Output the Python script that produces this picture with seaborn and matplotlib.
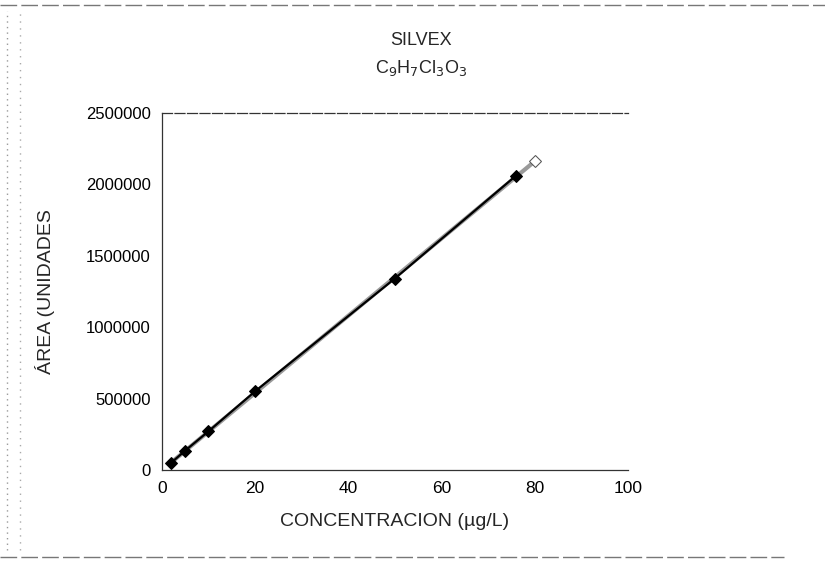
import matplotlib
matplotlib.use("Agg")
import matplotlib.pyplot as plt
import seaborn as sns
import pandas as pd
import numpy as np

conc = [2, 5, 10, 20, 50, 76]
area = [50000, 135000, 270000, 550000, 1340000, 2060000]
fit_x = [2, 80]
fit_y = [52000, 2160000]
xticks = [0, 20, 40, 60, 80, 100]
yticks = [0, 500000, 1000000, 1500000, 2000000, 2500000]

sns.set_theme(style="white")
plt.rcParams['font.family'] = ['Liberation Sans', 'DejaVu Sans']

fig = plt.figure(figsize=(8.25, 5.67), dpi=100)
ax = fig.add_axes([0.196, 0.171, 0.565, 0.630])

df = pd.DataFrame({"x": conc, "y": area})
fit = pd.DataFrame({"x": fit_x, "y": fit_y})

sns.lineplot(data=fit, x="x", y="y", ax=ax, color="#9a9a9a", linewidth=3.0,
             marker="D", markersize=6, markerfacecolor="white",
             markeredgecolor="#555555", markevery=[1])
sns.lineplot(data=df, x="x", y="y", ax=ax, color="black", linewidth=1.6,
             marker="D", markersize=6, markerfacecolor="black",
             markeredgecolor="black")

ax.set_xlim(0, 100)
ax.set_ylim(0, 2500000)
ax.set_xticks(xticks)
ax.set_yticks(yticks)
ax.set_xticklabels([str(v) for v in xticks], fontsize=12.5)
ax.set_yticklabels([str(v) for v in yticks], fontsize=12)
ax.tick_params(axis="both", direction="inout", length=6, width=0.8, colors="black", pad=5)
for s in ["left", "bottom", "top"]:
    ax.spines[s].set_visible(True)
    ax.spines[s].set_color("#333333")
    ax.spines[s].set_linewidth(0.9)
ax.spines["top"].set_linestyle((0, (8, 2)))
ax.spines["right"].set_visible(False)

ax.set_xlabel("CONCENTRACION (µg/L)", fontsize=14, labelpad=12)
ax.set_ylabel("ÁREA (UNIDADES", fontsize=14, labelpad=22)

fig.text(0.51, 0.928, "SILVEX", ha="center", va="center", fontsize=13)
fig.text(0.51, 0.880, r"C$_9$H$_7$Cl$_3$O$_3$", ha="center", va="center", fontsize=13)

# scan border lines
fig.add_artist(plt.Line2D([0.0, 1.0], [0.992, 0.992], color="#777777", lw=1, ls=(0, (12, 3))))
fig.add_artist(plt.Line2D([0.0, 0.95], [0.018, 0.018], color="#777777", lw=1, ls=(0, (12, 3))))
fig.add_artist(plt.Line2D([0.008, 0.008], [0.03, 0.98], color="#999999", lw=1, ls=(0, (1, 3))))
fig.add_artist(plt.Line2D([0.024, 0.024], [0.03, 0.98], color="#aaaaaa", lw=1, ls=(0, (1, 4))))

fig.savefig("out.png", dpi=100, facecolor="white")
